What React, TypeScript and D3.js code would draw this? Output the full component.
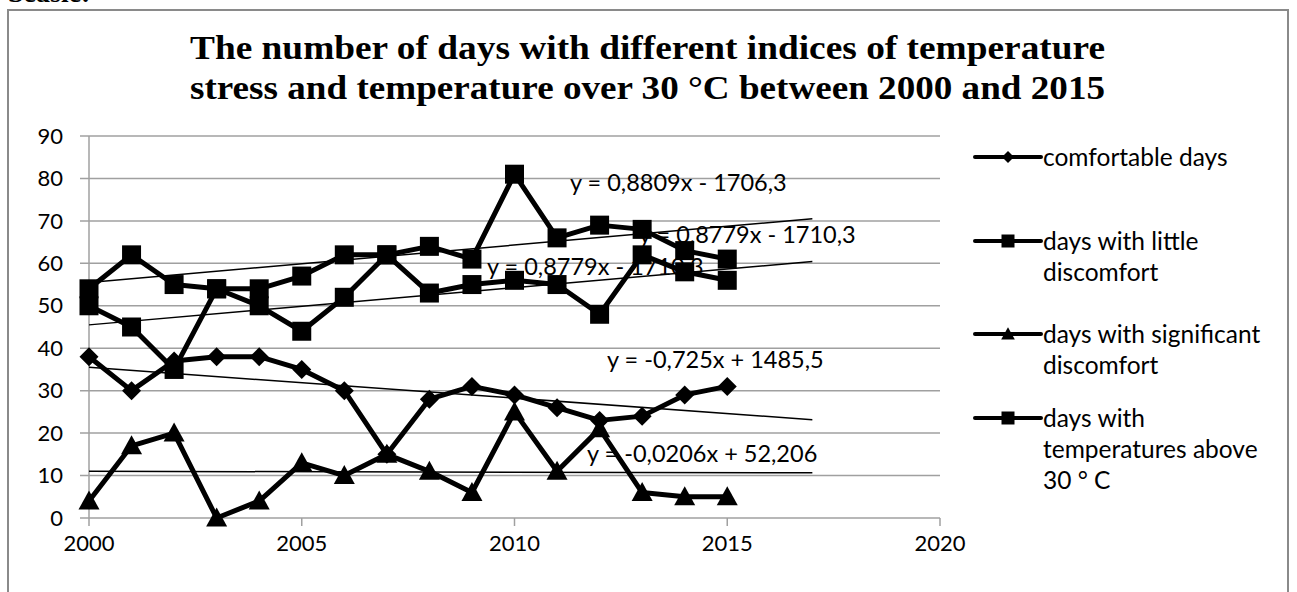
import React from "react";
import * as d3 from "d3";

const years = [2000, 2001, 2002, 2003, 2004, 2005, 2006, 2007, 2008, 2009, 2010, 2011, 2012, 2013, 2014, 2015];
const comfortable = [38, 30, 37, 38, 38, 35, 30, 15, 28, 31, 29, 26, 23, 24, 29, 31];
const littleDiscomfort = [54, 62, 55, 54, 54, 57, 62, 62, 64, 61, 81, 66, 69, 68, 63, 61];
const significantDiscomfort = [4, 17, 20, 0, 4, 13, 10, 15, 11, 6, 25, 11, 21, 6, 5, 5];
const above30 = [50, 45, 35, 54, 50, 44, 52, 62, 53, 55, 56, 55, 48, 62, 58, 56];

const yTicks = [0, 10, 20, 30, 40, 50, 60, 70, 80, 90];
const xTicks = [2000, 2005, 2010, 2015, 2020];

const trendFrom = 2000;
const trendTo = 2017;
const trendSlopes = [0.8809, 0.8779, -0.725, -0.0206];
const trendIntercepts = [-1706.3, -1710.3, 1485.5, 52.206];

const trendLabels = [
  "y = 0,8809x - 1706,3",
  "y = 0,8779x - 1710,3",
  "y = 0,8779x - 1710,3",
  "y = -0,725x + 1485,5",
  "y = -0,0206x + 52,206",
];

const legendNames = [
  ["comfortable days"],
  ["days with little", "discomfort"],
  ["days with significant", "discomfort"],
  ["days with", "temperatures above", "30 ° C"],
];

const titleLines = [
  "The number of days with different indices of temperature",
  "stress and temperature over 30 °C between 2000 and 2015",
];

const FONT = "Lato, 'Open Sans', sans-serif";

function markerPath(kind: string, s: number) {
  if (kind === "square") return `M${-s},${-s}H${s}V${s}H${-s}Z`;
  if (kind === "diamond") return `M0,${-s}L${s},0L0,${s}L${-s},0Z`;
  return `M0,${-s * 1.05}L${s * 1.05},${s * 0.85}L${-s * 1.05},${s * 0.85}Z`;
}

export default function App() {
  const W = 1297;
  const H = 592;
  const x = d3.scaleLinear().domain([2000, 2020]).range([89, 940]);
  const y = d3.scaleLinear().domain([0, 90]).range([518, 136]);

  const series = [
    { name: "little", values: littleDiscomfort, kind: "square", size: 9.5 },
    { name: "above30", values: above30, kind: "square", size: 9.5 },
    { name: "comfortable", values: comfortable, kind: "diamond", size: 9.5 },
    { name: "significant", values: significantDiscomfort, kind: "triangle", size: 10 },
  ];
  const line = d3
    .line<number>()
    .x((_, i) => x(years[i]))
    .y((d) => y(d));

  const trendPos = [
    { x: 570, y: 191 },
    { x: 639, y: 243 },
    { x: 487, y: 275 },
    { x: 607, y: 368 },
    { x: 587, y: 462 },
  ];

  const legendKinds = ["diamond", "square", "triangle", "square"];
  const legendY = [157, 241, 334, 418];

  return (
    <svg
      width={W}
      height={H}
      style={{ position: "absolute", left: 0, top: 0, background: "#fff" }}
      fontFamily={FONT}
    >
      <text x={8} y={2} fontFamily="'Liberation Serif', serif" fontWeight="bold" fontSize={28}>
        Seasle:
      </text>
      <rect x={8} y={10} width={1280} height={700} fill="none" stroke="#8a8a8a" strokeWidth={2} />

      {titleLines.map((t, i) => (
        <text
          key={i}
          x={190}
          y={59 + i * 40}
          textLength={915}
          lengthAdjust="spacingAndGlyphs"
          fontFamily="'Liberation Serif', 'Times New Roman', serif"
          fontWeight="bold"
          fontSize={34}
        >
          {t}
        </text>
      ))}

      {yTicks.map((t) => (
        <g key={t}>
          <line x1={80} x2={940} y1={y(t)} y2={y(t)} stroke="#a0a0a0" strokeWidth={1.5} />
          <text x={63} y={y(t)} dy="0.35em" textAnchor="end" fontSize={22}>
            {t}
          </text>
        </g>
      ))}
      <line x1={x(2000)} x2={x(2000)} y1={y(90)} y2={y(0)} stroke="#a0a0a0" strokeWidth={1.5} />
      {xTicks.map((t) => (
        <g key={t}>
          <line x1={x(t)} x2={x(t)} y1={y(0)} y2={y(0) + 8} stroke="#a0a0a0" strokeWidth={1.5} />
          <text x={x(t)} y={551} textAnchor="middle" fontSize={22}>
            {t}
          </text>
        </g>
      ))}

      {trendSlopes.map((m, i) => (
        <line
          key={i}
          x1={x(trendFrom)}
          x2={x(trendTo)}
          y1={y(m * trendFrom + trendIntercepts[i])}
          y2={y(m * trendTo + trendIntercepts[i])}
          stroke="#000"
          strokeWidth={1.5}
        />
      ))}
      {trendLabels.map((t, i) => (
        <text key={i} x={trendPos[i].x} y={trendPos[i].y} fontSize={23.5}>
          {t}
        </text>
      ))}

      {series.map((s) => (
        <g key={s.name}>
          <path d={line(s.values) || ""} fill="none" stroke="#000" strokeWidth={5} strokeLinejoin="round" />
          {s.values.map((v, i) => (
            <path
              key={i}
              transform={`translate(${x(years[i])},${y(v)})`}
              d={markerPath(s.kind, s.size)}
              fill="#000"
            />
          ))}
        </g>
      ))}

      {legendNames.map((lines, i) => (
        <g key={i}>
          <line x1={975} x2={1041} y1={legendY[i]} y2={legendY[i]} stroke="#000" strokeWidth={4} strokeLinecap="round" />
          <path transform={`translate(1008,${legendY[i]})`} d={markerPath(legendKinds[i], legendKinds[i] === "diamond" ? 6 : 6.5)} fill="#000" />
          {lines.map((l, j) => (
            <text key={j} x={1043} y={legendY[i] + j * 31} dy="0.35em" fontSize={24.5}>
              {l}
            </text>
          ))}
        </g>
      ))}
    </svg>
  );
}
